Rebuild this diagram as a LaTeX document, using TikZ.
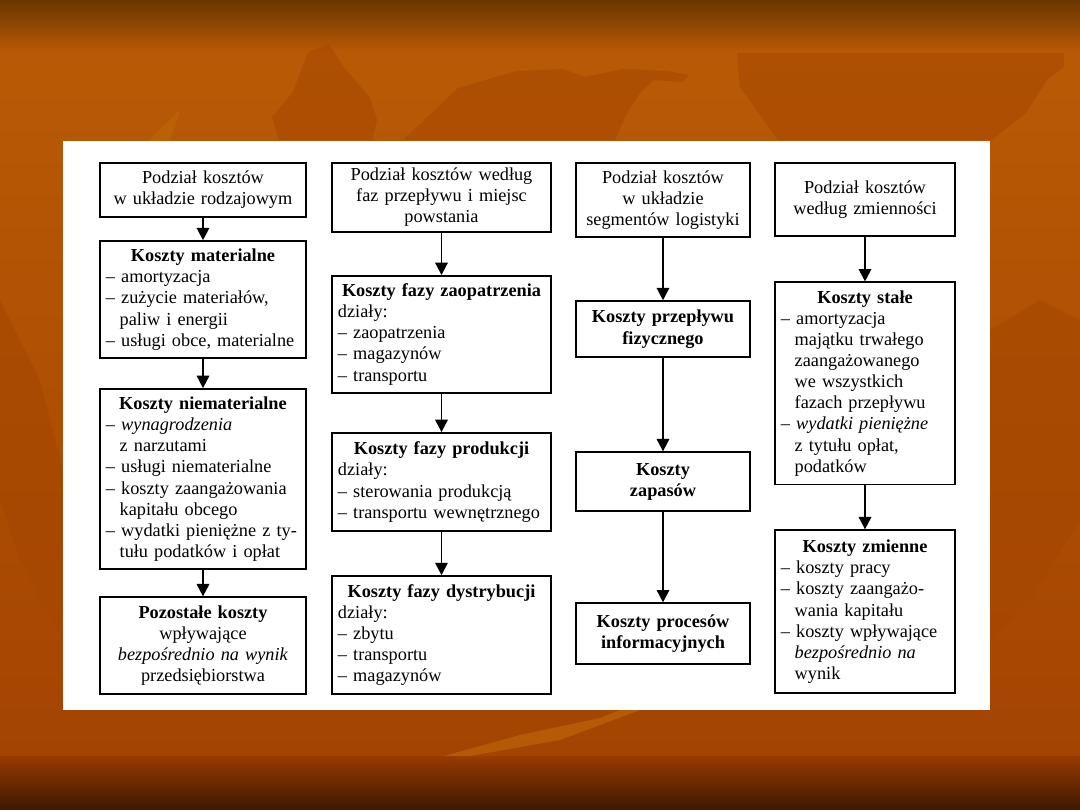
\documentclass[tikz,border=0pt]{standalone}
\usepackage{fontspec}
\setmainfont{Liberation Serif}
\usepackage{xcolor}
\definecolor{bgtop}{HTML}{6A3600}
\definecolor{bgmid}{HTML}{B85A05}
\definecolor{bglow}{HTML}{A44402}
\definecolor{bgbota}{HTML}{983A00}
\definecolor{bgbotb}{HTML}{3E1800}
\definecolor{leafdark}{HTML}{A54602}
\definecolor{leaflight}{HTML}{C06A08}
\usepackage{tikz}
\usetikzlibrary{arrows.meta, positioning}
\setlength{\parindent}{0pt}

\newcommand{\khead}[1]{{\centering\bfseries #1\par}}
\newcommand{\kcont}{\hspace*{0.75em}}

\begin{document}
\begin{tikzpicture}[
		x=0.025cm, y=-0.025cm,
		node distance=1cm,
		box/.style={
			rectangle,
			draw=black,
			line width=1.3pt,
			fill=white,
			inner xsep=0.15cm,
			inner ysep=2pt,
			font=\fontsize{13}{15}\selectfont,
		},
		head/.style={box, align=center},
		list/.style={box, align=left},
		colA/.style={text width=4.85cm},
		colB/.style={text width=5.175cm},
		colC/.style={text width=4.05cm},
		colD/.style={text width=4.2cm},
		arrow/.style={-{Triangle[length=3.1mm, width=3.1mm]}, line width=1.4pt},
		leaf/.style={fill=leafdark, opacity=0.5},
		]
		\useasboundingbox (0,0) rectangle (1080,810);
		
		% background
		\shade[top color=bgtop, bottom color=bgmid] (0,0) rectangle (1080,52);
		\shade[top color=bgmid, bottom color=bglow] (0,52) rectangle (1080,756);
		\shade[top color=bgbota, bottom color=bgbotb] (0,756) rectangle (1080,810);
		\fill[leaf] (403,140) -- (458,88) -- (516,71) -- (563,69) -- (585,77) -- (623,69) -- (668,71) -- (689,75) -- (682,82) -- (654,80) -- (640,93) -- (627,113) -- (615,140) -- cycle;
		\fill[leaf] (279,140) -- (272,117) -- (293,92) -- (308,52) -- (329,44) -- (344,67) -- (370,98) -- (377,120) -- (372,140) -- cycle;
		\fill[leaf] (737,53) -- (1064,53) -- (1064,67) -- (1047,80) -- (1026,113) -- (992,140) -- (778,140) -- (740,87) -- cycle;
		\fill[leaf] (0,300) -- (40,380) -- (63,470) -- (63,640) -- (20,560) -- (0,500) -- cycle;
		\fill[leaf] (990,330) -- (1040,300) -- (1080,320) -- (1080,520) -- (1030,600) -- (990,640) -- cycle;
		\fill[leaf] (227,710) -- (275,732) -- (337,728) -- (368,720) -- (351,710) -- cycle;
		\fill[leaflight, opacity=0.6] (444,756) -- (520,735) -- (600,718) -- (620,710) -- (640,710) -- (560,740) -- (470,756) -- cycle;
		\fill[leaflight, opacity=0.5] (148,141) -- (180,110) -- (170,141) -- cycle;
		
		% panel
		\fill[white] (63,141) rectangle (990,710);
		
		% column 1
		\node[head, colA, minimum height=1.35cm, anchor=north] (c1a) at (203,162) {Podział kosztów\\w układzie rodzajowym};
		\node[list, colA, minimum height=2.92cm, below=0.56cm of c1a] (c1b) {\khead{Koszty materialne}– amortyzacja\\– zużycie materiałów,\\\kcont paliw i energii\\– usługi obce, materialne};
		\node[list, colA, minimum height=4.5cm, below=0.73cm of c1b] (c1c) {\khead{Koszty niematerialne}– \textit{wynagrodzenia}\\\kcont z narzutami\\– usługi niematerialne\\– koszty zaangażowania\\\kcont kapitału obcego\\– wydatki pieniężne z ty-\\\kcont tułu podatków i opłat};
		\node[head, colA, minimum height=2.42cm, below=0.66cm of c1c] (c1d) {\textbf{Pozostałe koszty}\\wpływające\\\textit{bezpośrednio na wynik}\\przedsiębiorstwa};
		
		% column 2
		\node[head, colB, minimum height=1.72cm, anchor=north] (c2a) at (441.5,162) {Podział kosztów według\\faz przepływu i miejsc\\powstania};
		\node[list, colB, minimum height=2.92cm, below=1.06cm of c2a] (c2b) {\khead{Koszty fazy zaopatrzenia}działy:\\– zaopatrzenia\\– magazynów\\– transportu};
		\node[list, colB, minimum height=2.45cm, below=0.96cm of c2b] (c2c) {\khead{Koszty fazy produkcji}działy:\\– sterowania produkcją\\– transportu wewnętrznego};
		\node[list, colB, minimum height=2.95cm, below=1.08cm of c2c] (c2d) {\khead{Koszty fazy dystrybucji}działy:\\– zbytu\\– transportu\\– magazynów};
		
		% column 3
		\node[head, colC, minimum height=1.85cm, anchor=north] (c3a) at (663,162) {Podział kosztów\\w układzie\\segmentów logistyki};
		\node[head, colC, minimum height=1.4cm, font=\fontsize{13}{15}\selectfont\bfseries, below=1.56cm of c3a] (c3b) {Koszty przepływu\\fizycznego};
		\node[head, colC, minimum height=1.47cm, font=\fontsize{13}{15}\selectfont\bfseries, below=2.33cm of c3b] (c3c) {Koszty\\zapasów};
		\node[head, colC, minimum height=1.52cm, font=\fontsize{13}{15}\selectfont\bfseries, below=2.26cm of c3c] (c3d) {Koszty procesów\\informacyjnych};
		
		% column 4
		\node[head, colD, minimum height=1.82cm, anchor=north] (c4a) at (865,162) {Podział kosztów\\według zmienności};
		\node[list, colD, minimum height=5.05cm, below=1.12cm of c4a] (c4b) {\khead{Koszty stałe}– amortyzacja\\\kcont majątku trwałego\\\kcont zaangażowanego\\\kcont we wszystkich\\\kcont fazach przepływu\\– \textit{wydatki pieniężne}\\\kcont z tytułu opłat,\\\kcont podatków};
		\node[list, colD, minimum height=4.07cm, below=1.1cm of c4b] (c4c) {\khead{Koszty zmienne}– koszty pracy\\– koszty zaangażo-\\\kcont wania kapitału\\– koszty wpływające\\\kcont \textit{bezpośrednio na}\\\kcont wynik};
		
		\draw[arrow] (c1a) -- (c1b);
		\draw[arrow] (c1b) -- (c1c);
		\draw[arrow] (c1c) -- (c1d);
		\draw[arrow] (c2a) -- (c2b);
		\draw[arrow] (c2b) -- (c2c);
		\draw[arrow] (c2c) -- (c2d);
		\draw[arrow] (c3a) -- (c3b);
		\draw[arrow] (c3b) -- (c3c);
		\draw[arrow] (c3c) -- (c3d);
		\draw[arrow] (c4a) -- (c4b);
		\draw[arrow] (c4b) -- (c4c);
\end{tikzpicture}
\end{document}
